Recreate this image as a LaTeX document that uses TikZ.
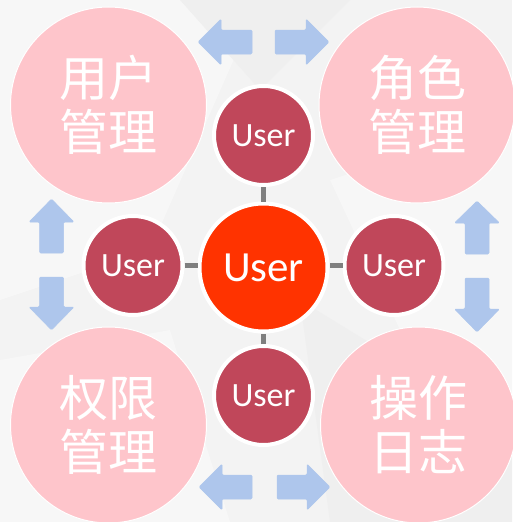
\documentclass[tikz,border=0pt]{standalone}
\usepackage{fontspec}
\setmainfont{Carlito}
\newfontfamily\cjk{Noto Sans CJK SC}
\definecolor{bgc}{HTML}{F3F3F3}
\definecolor{bgl}{HTML}{F7F7F7}
\definecolor{bgd}{HTML}{EFEFEF}
\definecolor{pinkc}{HTML}{FEC5CB}
\definecolor{darkc}{HTML}{C0475A}
\definecolor{mainc}{HTML}{FF3300}
\definecolor{arrowc}{HTML}{AEC6EC}
\definecolor{stubc}{HTML}{7F7F7F}
\begin{document}
\begin{tikzpicture}[x=1pt,y=-1pt,
  bigcirc/.style={circle,fill=pinkc,draw=white,line width=1pt,minimum size=196pt,inner sep=0pt,
    text=white,align=center,font=\cjk\fontsize{49}{54}\selectfont},
  smallcirc/.style={circle,fill=darkc,draw=white,line width=4pt,minimum size=99pt,inner sep=0pt,
    text=white,font=\fontsize{34}{36}\selectfont},
  maincirc/.style={circle,fill=mainc,draw=white,line width=4pt,minimum size=128pt,inner sep=0pt,
    text=white,font=\fontsize{43}{46}\selectfont},
  stub/.style={draw=stubc,line width=4.5pt},
  barrow/.style={fill=arrowc,draw=arrowc,line width=0.5pt,rounded corners=1.2pt}]
\useasboundingbox (0,0) rectangle (512,522);
% background
\fill[bgc] (0,0) rectangle (512,522);
\fill[bgl] (0,0) -- (260,0) -- (150,250) -- (0,300) -- cycle;
\fill[bgl] (330,180) -- (512,120) -- (512,400) -- (400,330) -- cycle;
\fill[bgd] (180,0) -- (350,0) -- (260,90) -- cycle;
\fill[bgl] (0,360) -- (170,330) -- (230,522) -- (0,522) -- cycle;
\fill[bgd] (300,300) -- (512,430) -- (512,522) -- (330,522) -- cycle;
% big circles
\node[bigcirc] (um) at (108.5,105) {用户\\管理};
\node[bigcirc] (rm) at (417,105) {角色\\管理};
\node[bigcirc] (pm) at (108.5,425) {权限\\管理};
\node[bigcirc] (ol) at (418.5,425) {操作\\日志};
% block arrows
\path[barrow] (198,42) -- (221,19) -- (221,30) -- (252,30) -- (252,54) -- (221,54) -- (221,65) -- cycle;
\path[barrow] (275,30) -- (306,30) -- (306,19) -- (329,42) -- (306,65) -- (306,54) -- (275,54) -- cycle;
\path[barrow] (199,487) -- (222,464) -- (222,475) -- (252,475) -- (252,499) -- (222,499) -- (222,510) -- cycle;
\path[barrow] (277,475) -- (307,475) -- (307,464) -- (330,487) -- (307,510) -- (307,499) -- (277,499) -- cycle;
\path[barrow] (51.5,199) -- (74,222) -- (63.5,222) -- (63.5,253) -- (39.5,253) -- (39.5,222) -- (29,222) -- cycle;
\path[barrow] (39.5,277) -- (63.5,277) -- (63.5,307) -- (74,307) -- (51.5,330) -- (29,307) -- (39.5,307) -- cycle;
\path[barrow] (477,201) -- (499.5,223) -- (489,223) -- (489,254) -- (465,254) -- (465,223) -- (454.5,223) -- cycle;
\path[barrow] (465,278) -- (489,278) -- (489,309) -- (499.5,309) -- (477,332) -- (454.5,309) -- (465,309) -- cycle;
% central nodes
\node[maincirc] (c) at (263.5,267.5) {User};
\node[smallcirc] (t) at (263.5,135.5) {User};
\node[smallcirc] (l) at (133,265.5) {User};
\node[smallcirc] (r) at (394,265.5) {User};
\node[smallcirc] (b) at (263.5,395.5) {User};
% stubs
\draw[stub] (t.south) -- (c.north);
\draw[stub] (b.north) -- (c.south);
\draw[stub] (l.east) -- (l.east -| c.west);
\draw[stub] (r.west) -- (r.west -| c.east);
\end{tikzpicture}
\end{document}
